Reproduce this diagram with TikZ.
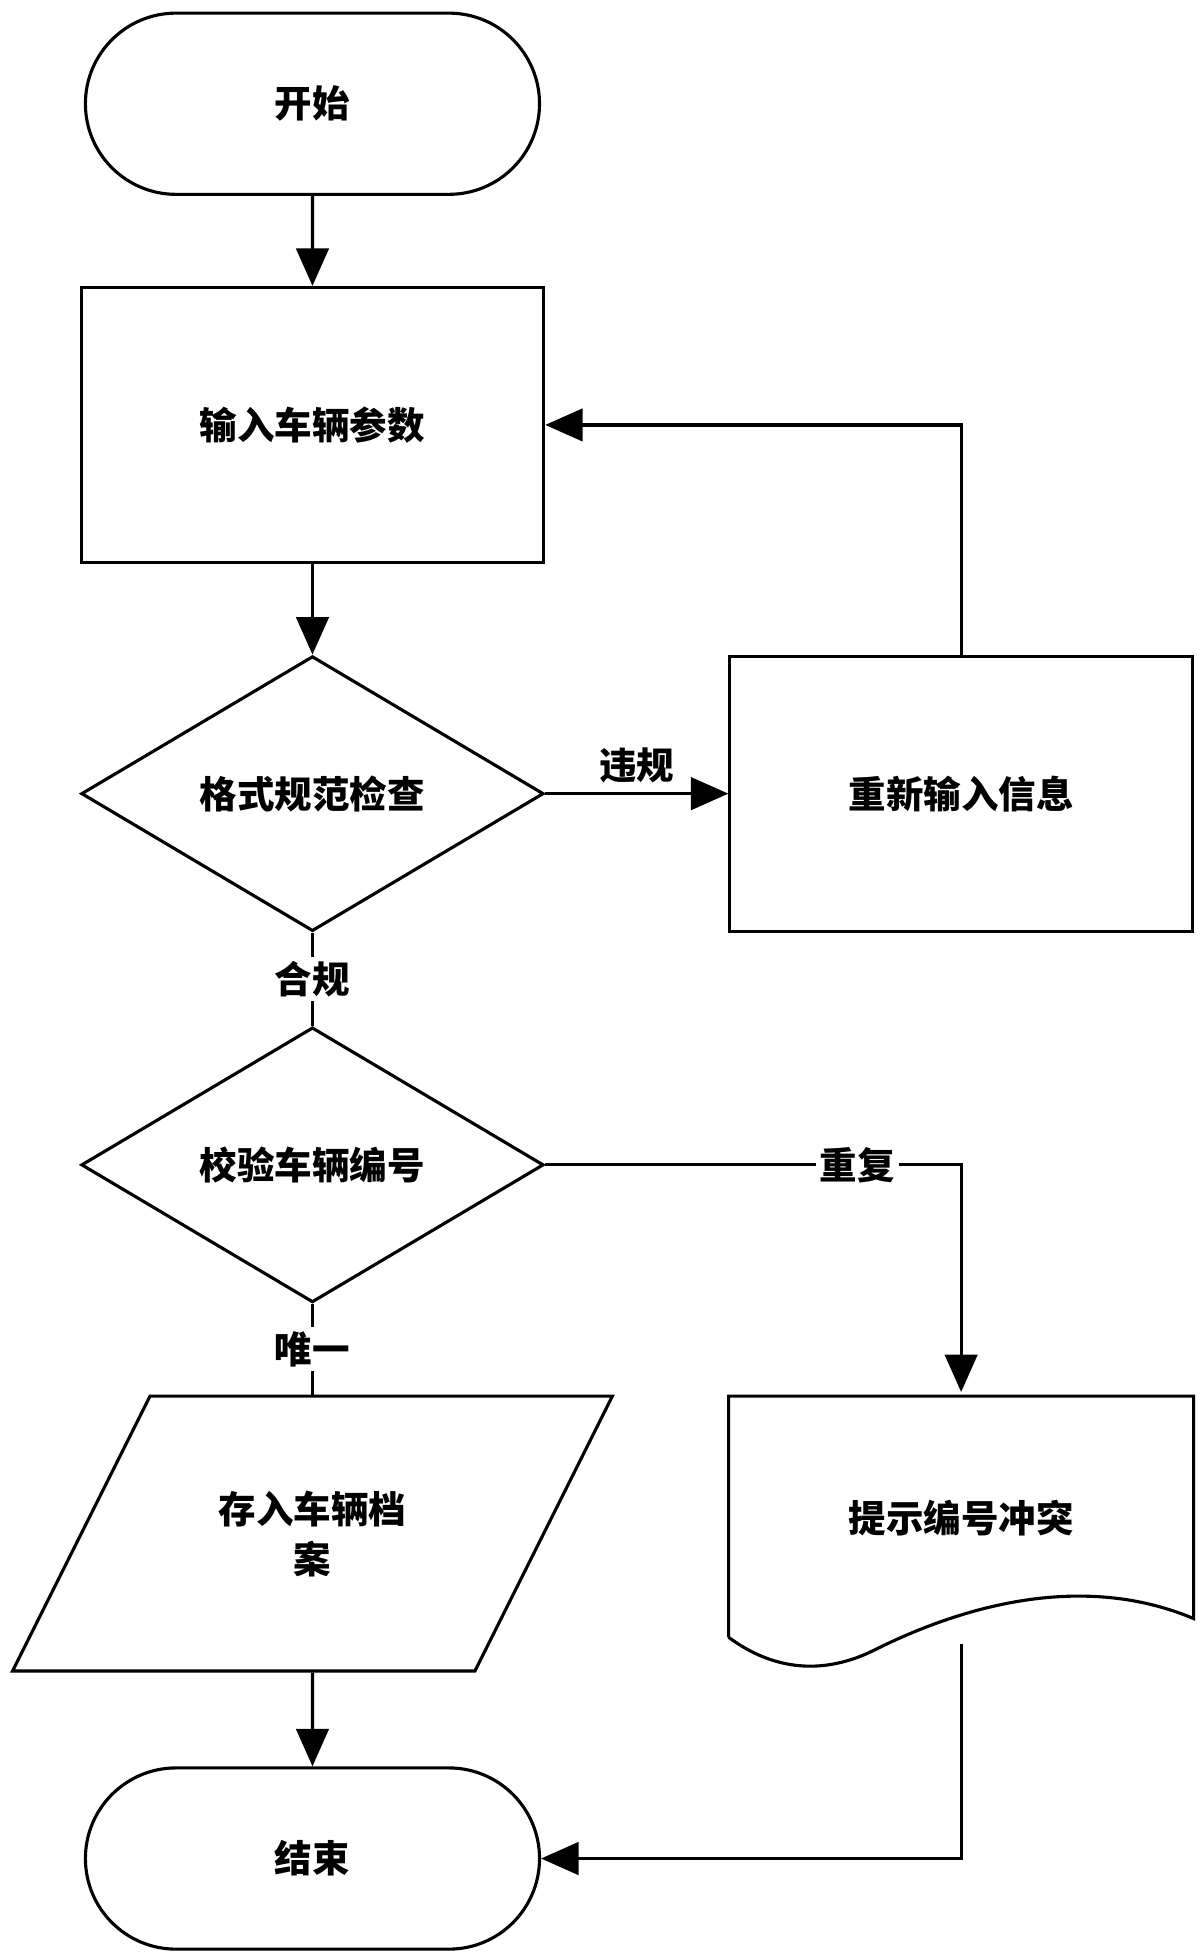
\documentclass[tikz,border=0pt]{standalone}
\usepackage{fontspec}
\setmainfont{Noto Sans CJK SC}
\usetikzlibrary{shapes.geometric,shapes.misc,arrows.meta,positioning}
\tikzset{
  base/.style={draw, line width=2.5pt, align=center, font=\fontsize{30}{40}\selectfont\bfseries},
  term/.style={base, rounded rectangle, minimum width=370pt, minimum height=145pt},
  proc/.style={base, rectangle, minimum width=370pt, minimum height=220pt},
  dec/.style={base, diamond, aspect=1.68, minimum width=370pt, minimum height=220pt, inner sep=0pt},
  lbl/.style={font=\fontsize{30}{36}\selectfont\bfseries},
  line/.style={line width=2.5pt},
  arr/.style={line, -{Triangle[length=30pt,width=26pt]}}
}
\begin{document}
\begin{tikzpicture}[x=1pt,y=-1pt]
  \useasboundingbox (0,0) rectangle (960,1565);

  % 节点
  \node[term] (start) at (250,83) {开始};
  \node[proc] (input) at (250,340) {输入车辆参数};
  \node[dec] (check) at (250,635) {格式规范检查};
  \node[proc] (redo) at (769,635) {重新输入信息};
  \node[dec] (verify) at (250,932) {校验车辆编号};
  \node[base, draw=none, minimum width=370pt, minimum height=220pt] (save) at (250,1227) {存入车辆档\\案};
  \node[base, draw=none, minimum width=370pt, minimum height=200pt] (warn) at (769,1215) {提示编号冲突};
  \node[term] (stop) at (250,1487) {结束};

  % 平行四边形和文档形状
  \draw[line] (120,1117) -- (490,1117) -- (380,1337) -- (10,1337) -- cycle;
  \draw[line] (583,1310) -- (583,1117) -- (955,1117) -- (955,1295)
    .. controls (860,1255) and (760,1290) .. (700,1320)
    .. controls (650,1345) and (610,1330) .. (583,1310);
  \coordinate (warnbot) at (769,1315);

  % 连线
  \draw[arr] (start) -- (input);
  \draw[arr] (input) -- (check);
  \draw[arr] (check) -- node[lbl, above=4pt] {违规} (redo);
  \draw[arr] (redo.north) |- (input.east);
  \draw[line] (check.south) -- node[lbl, fill=white, pos=0.5] {合规} (verify.north);
  \draw[line] (verify.south) -- node[lbl, fill=white, pos=0.5] {唯一} (save.north);
  \draw[arr] (verify.east) -- node[lbl, fill=white, pos=0.75] {重复} (769,932) -- (warn.north);
  \draw[arr] (save.south) -- (stop);
  \draw[arr] (warnbot) |- (stop.east);
\end{tikzpicture}
\end{document}
